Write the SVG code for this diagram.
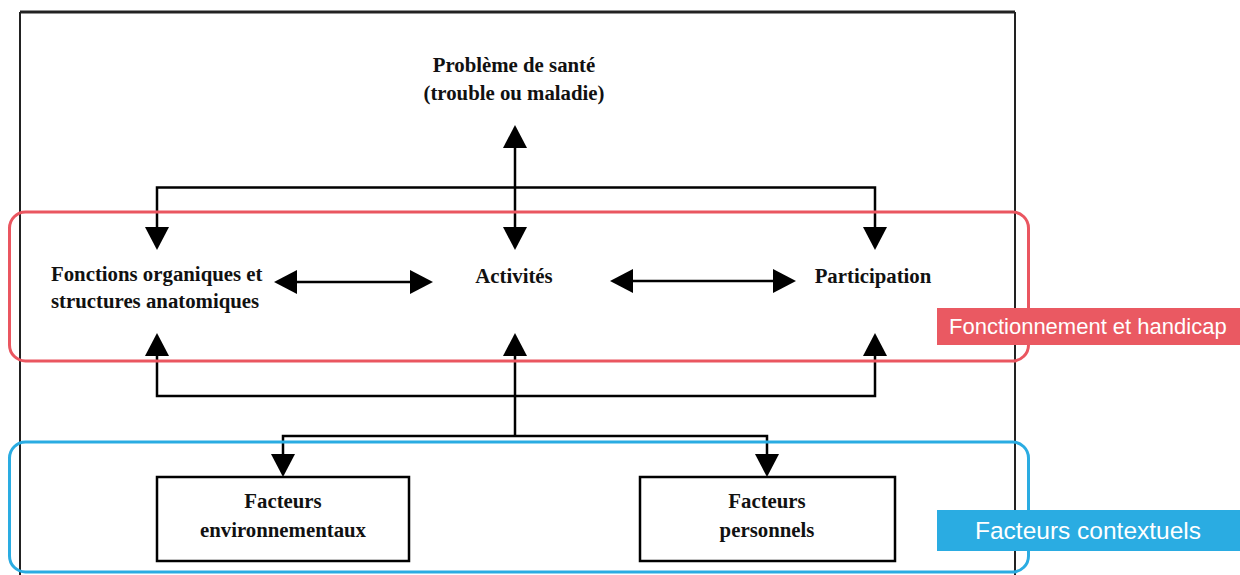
<svg xmlns="http://www.w3.org/2000/svg" width="1240" height="575" viewBox="0 0 1240 575">
<style>
.t{font-family:"Liberation Serif","Times New Roman",serif;font-weight:bold;font-size:20.8px;fill:#111}
.c{stroke:#000;stroke-width:2.5;fill:none}
.box{fill:#fff;stroke:#000;stroke-width:2.5}
.lbl{font-family:"Liberation Sans",Arial,sans-serif;fill:#fff}
</style>
<defs>
<marker id="ah" markerUnits="userSpaceOnUse" markerWidth="24" markerHeight="24" viewBox="0 0 23 24" refX="19" refY="12" orient="auto-start-reverse">
<path d="M0,0 L23,12 L0,24 Z" fill="#000"/>
</marker>
</defs>
<rect width="1240" height="575" fill="#fff"/>
<g id="frame" stroke="#222" fill="none">
<line x1="20" y1="12" x2="1015" y2="12" stroke-width="3"/>
<line x1="20" y1="12" x2="20" y2="575" stroke-width="2"/>
<line x1="1015" y1="12" x2="1015" y2="575" stroke-width="2"/>
</g>
<g id="connectors">
<line class="c" x1="515" y1="129" x2="515" y2="246" marker-start="url(#ah)" marker-end="url(#ah)"/>
<path class="c" d="M157,246 V187.5 H875 V246" marker-start="url(#ah)" marker-end="url(#ah)"/>
<line class="c" x1="278" y1="282" x2="429" y2="282" marker-start="url(#ah)" marker-end="url(#ah)"/>
<line class="c" x1="614" y1="281" x2="792" y2="281" marker-start="url(#ah)" marker-end="url(#ah)"/>
<path class="c" d="M157,337 V396 H875 V337" marker-start="url(#ah)" marker-end="url(#ah)"/>
<line class="c" x1="515" y1="436" x2="515" y2="337" marker-end="url(#ah)"/>
<path class="c" d="M283,473 V436 H767 V473" marker-start="url(#ah)" marker-end="url(#ah)"/>
</g>
<g id="probleme">
<text class="t" x="514" y="72" text-anchor="middle">Problème de santé</text>
<text class="t" x="514" y="100" text-anchor="middle">(trouble ou maladie)</text>
</g>
<g id="fonctions">
<text class="t" x="51" y="281">Fonctions organiques et</text>
<text class="t" x="51" y="308">structures anatomiques</text>
</g>
<g id="activites">
<text class="t" x="514" y="283" text-anchor="middle">Activités</text>
</g>
<g id="participation">
<text class="t" x="873" y="283" text-anchor="middle">Participation</text>
</g>
<g id="env">
<rect class="box" x="157" y="477" width="252" height="84"/>
<text class="t" x="283" y="508" text-anchor="middle">Facteurs</text>
<text class="t" x="283" y="537" text-anchor="middle">environnementaux</text>
</g>
<g id="pers">
<rect class="box" x="640" y="477" width="255" height="84"/>
<text class="t" x="767" y="508" text-anchor="middle">Facteurs</text>
<text class="t" x="767" y="537" text-anchor="middle">personnels</text>
</g>
<g id="group-fonctionnement">
<rect x="9.5" y="212" width="1019" height="149" rx="16" fill="none" stroke="#EA5660" stroke-width="3"/>
<rect x="937" y="308" width="303" height="37" fill="#EA5962"/>
<text class="lbl" x="949" y="334" font-size="22">Fonctionnement et handicap</text>
</g>
<g id="group-contextuels">
<rect x="9.5" y="442" width="1019" height="130" rx="16" fill="none" stroke="#2AACE2" stroke-width="3"/>
<rect x="937" y="510" width="303" height="41" fill="#2AACE2"/>
<text class="lbl" x="975" y="539" font-size="24.5">Facteurs contextuels</text>
</g>
</svg>
